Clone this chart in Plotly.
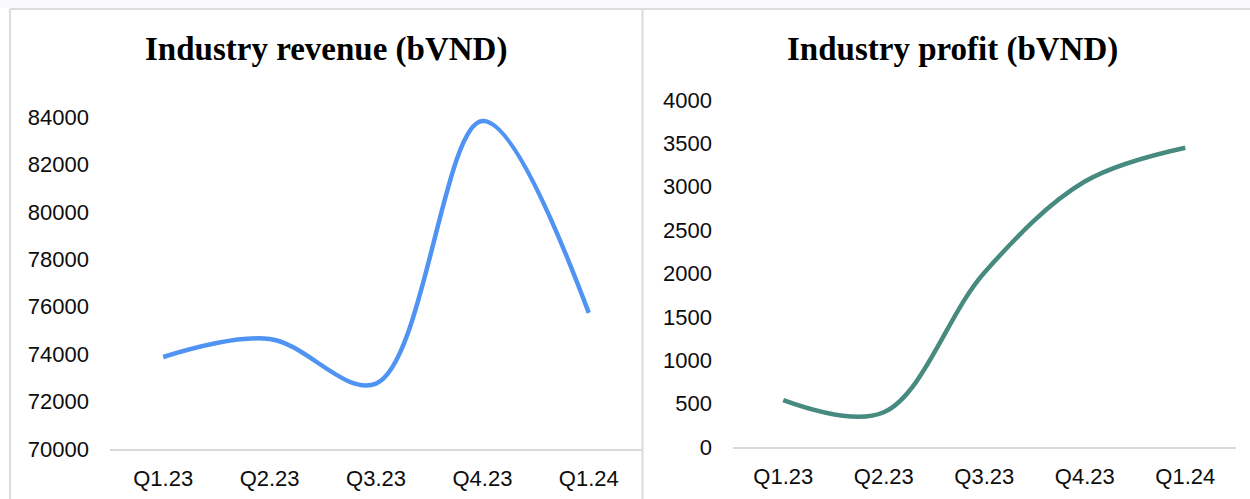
import plotly.graph_objects as go

# Quarterly figures for the industry (billion VND)
quarters = ["Q1.23", "Q2.23", "Q3.23", "Q4.23", "Q1.24"]
revenue = [73880, 74640, 72760, 83830, 75740]
profit = [540, 400, 2010, 3060, 3450]

revenue_ticks = [70000, 72000, 74000, 76000, 78000, 80000, 82000, 84000]
profit_ticks = [0, 500, 1000, 1500, 2000, 2500, 3000, 3500, 4000]

W, H = 1250, 499
BORDER = "#dcdcdc"
TICK_FONT = dict(family="Liberation Sans, Arial, sans-serif", size=22, color="#0d0d0d")
TITLE_FONT = dict(family="Liberation Serif, Times New Roman, serif", size=33, color="#000000")

fig = go.Figure()

fig.add_trace(go.Scatter(
    x=quarters, y=revenue, mode="lines",
    line=dict(color="#4f93f3", width=4.5, shape="spline", smoothing=1),
    xaxis="x", yaxis="y", hoverinfo="x+y", showlegend=False,
))
fig.add_trace(go.Scatter(
    x=quarters, y=profit, mode="lines",
    line=dict(color="#478a80", width=4.5, shape="spline", smoothing=1),
    xaxis="x2", yaxis="y2", hoverinfo="x+y", showlegend=False,
))

def px_x(v):
    return v / W

def px_y(v):
    return (H - v) / H

xcommon = dict(
    type="category", range=[-0.5, len(quarters) - 0.5],
    showgrid=False, zeroline=False, automargin=False,
    showline=True, linecolor="#d9d9d9", linewidth=2,
    ticks="", tickfont=TICK_FONT, ticklabelstandoff=9, fixedrange=True,
)
ycommon = dict(
    showgrid=False, zeroline=False, showline=False, automargin=False,
    ticks="", tickfont=TICK_FONT, ticklabelstandoff=20, fixedrange=True,
)

fig.update_layout(
    width=W, height=H, autosize=False,
    margin=dict(l=0, r=0, t=0, b=0, pad=0),
    paper_bgcolor="white", plot_bgcolor="white",
    xaxis=dict(domain=[px_x(110), px_x(642)], anchor="y", **xcommon),
    yaxis=dict(domain=[px_y(449), px_y(69.6)], anchor="x",
               range=[70000, 86000], tickvals=revenue_ticks,
               ticktext=[str(v) for v in revenue_ticks], **ycommon),
    xaxis2=dict(domain=[px_x(733), px_x(1235.5)], anchor="y2", **xcommon),
    yaxis2=dict(domain=[px_y(447), px_y(100)], anchor="x2",
                range=[0, 4000], tickvals=profit_ticks,
                ticktext=[str(v) for v in profit_ticks], **ycommon),
    annotations=[
        dict(text="<b>Industry revenue (bVND)</b>", x=px_x(326), y=px_y(50),
             xref="paper", yref="paper", xanchor="center", yanchor="middle",
             showarrow=False, font=TITLE_FONT),
        dict(text="<b>Industry profit (bVND)</b>", x=px_x(952), y=px_y(50),
             xref="paper", yref="paper", xanchor="center", yanchor="middle",
             showarrow=False, font=TITLE_FONT),
    ],
    shapes=[
        # faint strip above the chart frames
        dict(type="rect", xref="paper", yref="paper", x0=0, x1=1,
             y0=px_y(8), y1=1, fillcolor="#fafafc", line=dict(width=0), layer="below"),
        # frame: top edge, left edge, divider between panels
        dict(type="line", xref="paper", yref="paper", x0=px_x(10), x1=1,
             y0=px_y(9), y1=px_y(9), line=dict(color=BORDER, width=2)),
        dict(type="line", xref="paper", yref="paper", x0=px_x(10), x1=px_x(10),
             y0=0, y1=px_y(9), line=dict(color=BORDER, width=2)),
        dict(type="line", xref="paper", yref="paper", x0=px_x(642.5), x1=px_x(642.5),
             y0=0, y1=px_y(9), line=dict(color=BORDER, width=2)),
    ],
)

fig.write_html("out.html")
